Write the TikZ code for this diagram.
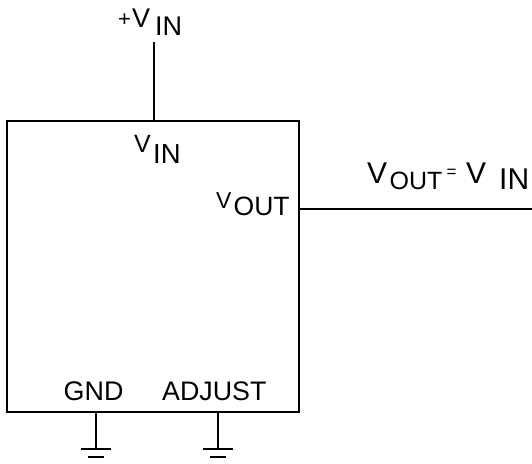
\documentclass[tikz,border=0pt]{standalone}
\usepackage{fontspec}
\setmainfont{Liberation Sans}
\usetikzlibrary{calc}
\begin{document}
\begin{tikzpicture}[x=1pt,y=-1pt,
  wire/.style={line width=1.3pt},
  boxline/.style={line width=2.8pt},
  lbl/.style={inner sep=0pt,anchor=base west},
]
\useasboundingbox (0,0) rectangle (532,463);
% IC box
\node[boxline,draw,minimum width=292pt,minimum height=291pt,inner sep=0pt] (ic) at (153,266.5) {};
% input wire
\coordinate (vintop) at (154,42);
\draw[wire] (vintop) -- (vintop |- ic.north);
% output wire
\coordinate (outend) at (532,209);
\draw[wire] (ic.east |- outend) -- (outend);
% grounds
\coordinate (g1) at (96,449);
\coordinate (g2) at (218,449);
\foreach \g in {g1,g2}{
  \draw[wire] (\g |- ic.south) -- (\g);
  \draw[wire] ($(\g)+(-15,0)$) -- ($(\g)+(15,0)$);
  \draw[wire] ($(\g)+(-8,8)$) -- ($(\g)+(8,8)$);
}
% +VIN label
\node[lbl,font=\fontsize{22}{26}\selectfont] (pl) at (118,26) {+};
\node[lbl,font=\fontsize{27}{30}\selectfont] (pv) at (132,27.5) {V};
\node[lbl,font=\fontsize{27}{30}\selectfont] (pin) at (155,35) {IN};
% VIN inside
\node[lbl,font=\fontsize{25}{28}\selectfont] (iv) at (134,152) {V};
\node[lbl,font=\fontsize{27.5}{30}\selectfont] (iin) at (153,163) {IN};
% VOUT inside
\node[lbl,font=\fontsize{23}{26}\selectfont] (ov) at (216,208) {V};
\node[lbl,font=\fontsize{26.5}{28}\selectfont] (oout) at (233.5,215) {OUT};
% GND / ADJUST
\node[lbl,font=\fontsize{26.9}{28}\selectfont] (gnd) at (63.5,400) {GND};
\node[lbl,font=\fontsize{26.8}{28}\selectfont] (adj) at (162,400) {ADJUST};
% right label
\node[lbl,font=\fontsize{30}{32}\selectfont] (rv) at (367,183) {V};
\node[lbl,font=\fontsize{25}{28}\selectfont] (rout) at (389.5,189) {OUT};
\node[lbl,font=\fontsize{17}{18}\selectfont] (req) at (446.5,177) {=};
\node[lbl,font=\fontsize{30}{32}\selectfont] (rv2) at (466,183) {V};
\node[lbl,font=\fontsize{30}{32}\selectfont] (rin) at (499,189) {IN};
\end{tikzpicture}
\end{document}
